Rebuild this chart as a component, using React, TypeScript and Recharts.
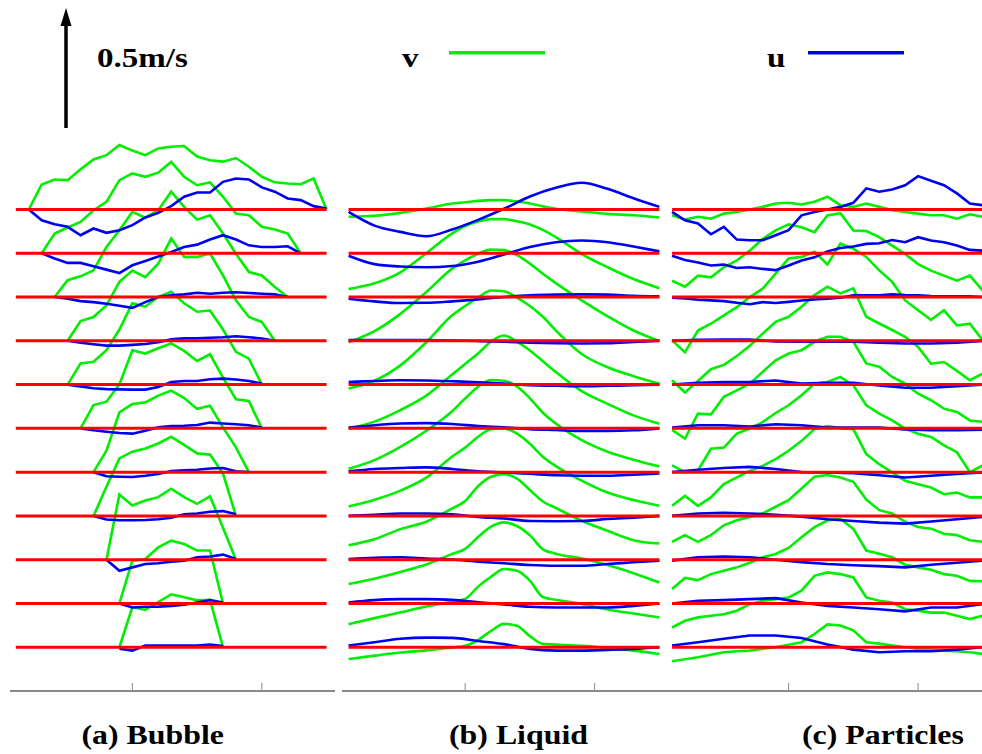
import { Line, LineChart, XAxis, YAxis } from 'recharts'

// vertical spacing between stacked profiles (m/s) and the y range of each panel
const GAP = 0.182
const YMAX = 2.37
const LEVELS = 11

const GREEN = '#00ee00'
const BLUE = '#0000f0'
const RED = '#ff0000'
const AXIS = '#8a8a8a'

// ---------- (a) Bubble: stations are integers, each profile starts at bubbleStart[level]
const bubbleStart = [2, 3, 4, 5, 5, 6, 7, 7, 8, 9, 9]

const bubbleV = [
  [0, 0.104, 0.125, 0.122, 0.167, 0.208, 0.226, 0.268, 0.245, 0.226, 0.254, 0.261, 0.264, 0.22, 0.205, 0.199, 0.214, 0.178, 0.136, 0.113, 0.108, 0.105, 0.129, 0],
  [0, 0.082, 0.107, 0.13, 0.179, 0.214, 0.304, 0.332, 0.318, 0.335, 0.38, 0.318, 0.283, 0.295, 0.235, 0.165, 0.158, 0.11, 0.099, 0.082, 0],
  [0, 0.07, 0.086, 0.111, 0.208, 0.278, 0.354, 0.33, 0.361, 0.438, 0.375, 0.322, 0.34, 0.264, 0.18, 0.104, 0.09, 0.042, 0],
  [0, 0.082, 0.099, 0.147, 0.245, 0.292, 0.265, 0.321, 0.425, 0.349, 0.349, 0.363, 0.272, 0.168, 0.099, 0.078, 0],
  [0, 0.088, 0.095, 0.143, 0.229, 0.338, 0.324, 0.365, 0.386, 0.338, 0.303, 0.308, 0.229, 0.136, 0.108, 0],
  [0, 0.097, 0.111, 0.183, 0.325, 0.311, 0.333, 0.353, 0.322, 0.28, 0.308, 0.211, 0.121, 0.114, 0],
  [0, 0.089, 0.249, 0.283, 0.29, 0.318, 0.339, 0.308, 0.263, 0.276, 0.186, 0.103, 0],
  [0, 0.121, 0.239, 0.267, 0.28, 0.301, 0.329, 0.295, 0.26, 0.255, 0.176, 0],
  [0, 0.271, 0.225, 0.246, 0.26, 0.295, 0.26, 0.232, 0.263, 0.133, 0],
  [0, 0.178, 0.185, 0.233, 0.261, 0.247, 0.22, 0.22, 0],
  [0, 0.167, 0.155, 0.188, 0.22, 0.208, 0.195, 0.197, 0],
]

const bubbleU = [
  [0, -0.045, -0.061, -0.072, -0.107, -0.079, -0.097, -0.086, -0.065, -0.033, -0.014, 0.014, 0.053, 0.071, 0.071, 0.115, 0.129, 0.125, 0.092, 0.074, 0.046, 0.039, 0.014, 0.004],
  [0, -0.022, -0.04, -0.04, -0.054, -0.068, -0.082, -0.05, -0.032, -0.013, 0.005, 0.026, 0.036, 0.057, 0.075, 0.057, 0.033, 0.026, 0.026, 0.029, 0],
  [0, -0.007, -0.017, -0.021, -0.028, -0.036, -0.045, -0.021, 0, 0.007, 0.011, 0.018, 0.014, 0.018, 0.02, 0.017, 0.014, 0.011, 0],
  [0, -0.008, -0.014, -0.02, -0.02, -0.017, -0.013, -0.006, 0.006, 0.01, 0.011, 0.013, 0.015, 0.019, 0.015, 0.01, 0],
  [0, -0.008, -0.015, -0.019, -0.02, -0.021, -0.021, -0.01, 0.011, 0.015, 0.015, 0.022, 0.025, 0.021, 0.015, 0.004],
  [0, -0.008, -0.014, -0.019, -0.022, -0.01, 0.005, 0.01, 0.011, 0.014, 0.024, 0.02, 0.017, 0.013, 0.003],
  [0, -0.017, -0.019, -0.02, -0.015, -0.008, 0.005, 0.008, 0.01, 0.015, 0.017, 0.004, 0],
  [0, -0.015, -0.018, -0.018, -0.017, -0.014, -0.008, 0.007, 0.01, 0.017, 0.02, 0.007],
  [0, -0.046, -0.032, -0.018, -0.015, -0.008, -0.004, 0.01, 0.013, 0.021, 0.003],
  [0, -0.017, -0.014, -0.013, -0.01, -0.005, 0.004, 0.014, 0.004],
  [-0.006, -0.014, 0.007, 0.007, 0.007, 0.007, 0.007, 0.011, 0.005],
]

// ---------- (b) Liquid
const liquidXV = [1, 3, 5, 7, 9, 10, 11, 12, 13, 14, 15, 16, 17, 19, 21, 23, 25]
const liquidXU = [1, 3, 5, 7, 9, 11, 13, 15, 17, 19, 21, 23, 25]

const liquidV = [
  [-0.03, -0.026, -0.014, 0.004, 0.025, 0.03, 0.036, 0.039, 0.039, 0.033, 0.025, 0.013, 0.003, -0.008, -0.018, -0.024, -0.033],
  [-0.149, -0.125, -0.079, 0, 0.083, 0.113, 0.132, 0.142, 0.142, 0.133, 0.12, 0.097, 0.067, -0.003, -0.058, -0.107, -0.145],
  [-0.188, -0.142, -0.07, 0.021, 0.118, 0.153, 0.18, 0.197, 0.195, 0.174, 0.139, 0.097, 0.058, -0.014, -0.08, -0.139, -0.183],
  [-0.198, -0.166, -0.102, -0.006, 0.106, 0.145, 0.18, 0.209, 0.206, 0.18, 0.145, 0.1, 0.043, -0.055, -0.11, -0.147, -0.178],
  [-0.183, -0.154, -0.106, -0.046, 0.042, 0.086, 0.129, 0.179, 0.204, 0.179, 0.142, 0.097, 0.052, -0.027, -0.08, -0.128, -0.163],
  [-0.168, -0.132, -0.077, -0.01, 0.071, 0.124, 0.173, 0.201, 0.198, 0.174, 0.125, 0.065, 0.02, -0.049, -0.097, -0.13, -0.158],
  [-0.143, -0.115, -0.077, -0.023, 0.065, 0.102, 0.147, 0.178, 0.182, 0.16, 0.118, 0.064, 0.025, -0.035, -0.085, -0.116, -0.14],
  [-0.122, -0.097, -0.055, -0.024, 0.031, 0.062, 0.124, 0.163, 0.173, 0.155, 0.108, 0.06, 0.033, -0.02, -0.062, -0.101, -0.115],
  [-0.101, -0.079, -0.051, -0.02, 0.024, 0.045, 0.094, 0.137, 0.155, 0.14, 0.101, 0.043, 0.025, 0.005, -0.022, -0.056, -0.095],
  [-0.086, -0.061, -0.037, -0.013, 0.008, 0.019, 0.07, 0.111, 0.143, 0.136, 0.095, 0.027, 0.015, -0.002, -0.025, -0.042, -0.058],
  [-0.049, -0.035, -0.022, -0.013, -0.001, 0.006, 0.03, 0.068, 0.097, 0.089, 0.046, 0.014, 0.011, 0.006, -0.003, -0.014, -0.028],
]

const liquidU = [
  [-0.01, -0.067, -0.093, -0.111, -0.083, -0.043, 0.003, 0.054, 0.09, 0.111, 0.086, 0.047, 0.011],
  [-0.01, -0.045, -0.055, -0.058, -0.053, -0.035, -0.005, 0.026, 0.046, 0.053, 0.046, 0.028, 0.008],
  [-0.007, -0.018, -0.025, -0.024, -0.018, -0.01, 0, 0.007, 0.01, 0.011, 0.01, 0.005, 0.003],
  [0.003, 0.003, 0.003, 0.003, 0.001, -0.001, -0.004, -0.008, -0.01, -0.011, -0.01, -0.005, 0],
  [0.011, 0.015, 0.018, 0.017, 0.014, 0.01, 0.004, -0.003, -0.005, -0.007, -0.005, -0.003, 0],
  [0.003, 0.013, 0.02, 0.022, 0.018, 0.01, 0.004, -0.003, -0.007, -0.011, -0.011, -0.008, 0],
  [0.003, 0.013, 0.017, 0.02, 0.013, 0.004, -0.001, -0.007, -0.013, -0.015, -0.015, -0.011, -0.005],
  [0, 0.005, 0.01, 0.01, 0.007, -0.004, -0.011, -0.021, -0.022, -0.021, -0.013, -0.007, 0],
  [0.003, 0.008, 0.01, 0.005, 0.001, -0.008, -0.015, -0.022, -0.025, -0.025, -0.018, -0.011, -0.004],
  [0.004, 0.014, 0.018, 0.018, 0.015, 0.005, -0.004, -0.014, -0.017, -0.017, -0.017, -0.01, 0],
  [0.007, 0.021, 0.035, 0.04, 0.039, 0.026, 0.013, -0.007, -0.014, -0.014, -0.011, -0.007, 0],
]

// ---------- (c) Particles
const particleX = [1, 2, 3, 4, 5, 6, 7, 8, 9, 10, 11, 12, 13, 14, 15, 16, 17, 18, 19, 20, 21, 22, 23, 24, 25]
const particleXOdd = [1, 3, 5, 7, 9, 11, 13, 15, 17, 19, 21, 23, 25]

const particleV = [
  [-0.024, -0.042, -0.03, -0.038, -0.017, -0.01, 0, 0.011, 0.025, 0.028, 0.021, 0.032, 0.053, 0.018, 0.011, 0.025, 0.011, -0.003, -0.01, -0.017, -0.024, -0.024, -0.038, -0.02, -0.03],
  [-0.114, -0.139, -0.093, -0.1, -0.058, -0.03, 0.011, 0.06, 0.095, 0.12, 0.108, 0.088, 0.157, 0.167, 0.095, 0.092, 0.067, 0.032, -0.003, -0.045, -0.072, -0.093, -0.114, -0.093, -0.155],
  [-0.18, -0.229, -0.139, -0.111, -0.076, -0.042, 0, 0.035, 0.097, 0.16, 0.167, 0.188, 0.136, 0.222, 0.201, 0.167, 0.111, 0.063, -0.014, -0.055, -0.095, -0.055, -0.118, -0.111, -0.18],
  [-0.164, -0.215, -0.167, -0.118, -0.1, -0.063, -0.021, 0.03, 0.079, 0.1, 0.142, 0.19, 0.225, 0.197, 0.218, 0.1, 0.072, 0.045, 0.017, -0.025, -0.095, -0.088, -0.125, -0.164, -0.136],
  [-0.188, -0.225, -0.121, -0.124, -0.051, -0.024, 0.004, 0.053, 0.101, 0.129, 0.143, 0.178, 0.199, 0.199, 0.178, 0.088, 0.074, 0.032, 0.004, -0.038, -0.065, -0.1, -0.114, -0.149, -0.155],
  [-0.154, -0.182, -0.175, -0.085, -0.08, -0.022, -0.001, 0.026, 0.064, 0.096, 0.138, 0.186, 0.193, 0.214, 0.179, 0.096, 0.061, 0.033, -0.001, -0.022, -0.036, -0.071, -0.099, -0.182, -0.154],
  [-0.14, -0.099, -0.14, -0.105, -0.05, -0.022, 0.005, 0.026, 0.054, 0.089, 0.13, 0.179, 0.192, 0.183, 0.179, 0.075, 0.033, -0.001, -0.036, -0.05, -0.064, -0.092, -0.085, -0.105, -0.105],
  [-0.108, -0.08, -0.108, -0.08, -0.039, -0.018, -0.004, 0.01, 0.038, 0.065, 0.114, 0.163, 0.17, 0.16, 0.142, 0.068, 0.024, 0.01, -0.025, -0.046, -0.053, -0.074, -0.08, -0.101, -0.108],
  [-0.122, -0.076, -0.085, -0.06, -0.046, -0.032, -0.013, 0.01, 0.024, 0.049, 0.093, 0.135, 0.163, 0.17, 0.128, 0.038, 0.025, 0.01, -0.021, -0.032, -0.042, -0.06, -0.067, -0.088, -0.09],
  [-0.1, -0.072, -0.058, -0.051, -0.045, -0.03, -0.003, 0.011, 0.018, 0.025, 0.053, 0.115, 0.129, 0.122, 0.108, 0.025, 0.011, 0.004, -0.024, -0.03, -0.038, -0.038, -0.051, -0.065, -0.051],
  [-0.058, -0.05, -0.042, -0.031, -0.021, -0.017, -0.014, -0.006, 0, 0.01, 0.021, 0.055, 0.095, 0.09, 0.07, 0.021, 0.015, 0.007, 0, -0.007, -0.01, -0.014, -0.017, -0.021, -0.028],
]

const particleU = [
  [-0.01, -0.045, -0.058, -0.103, -0.072, -0.125, -0.128, -0.128, -0.107, -0.086, -0.024, -0.01, 0, 0.011, 0.028, 0.088, 0.074, 0.083, 0.101, 0.139, 0.12, 0.101, 0.067, 0.025, 0.018],
  [-0.01, -0.028, -0.038, -0.051, -0.047, -0.061, -0.058, -0.065, -0.07, -0.051, -0.03, -0.017, 0.008, 0.022, 0.028, 0.039, 0.042, 0.055, 0.046, 0.067, 0.053, 0.046, 0.032, 0.014, 0.011],
  [-0.003, -0.006, -0.011, -0.014, -0.017, -0.024, -0.03, -0.021, -0.025, -0.02, -0.014, -0.01, -0.007, -0.003, 0.007, 0.007, 0.007, 0.011, 0.008, 0.007, 0.004, 0.003, 0.003, 0.003, 0],
  [0, 0.004, 0.005, 0.005, -0.003, -0.004, -0.004, -0.004, -0.008, -0.011, -0.011, -0.008, 0],
  [0, 0.007, 0.011, 0.011, 0.017, 0.004, 0.007, 0.007, -0.004, -0.013, -0.013, -0.007, 0],
  [0.003, 0.013, 0.013, 0.008, 0.017, 0.013, 0.003, 0.003, 0.003, -0.005, -0.008, -0.008, -0.005],
  [0, 0.01, 0.017, 0.022, 0.013, 0, -0.001, -0.004, -0.013, -0.022, -0.015, -0.008, -0.001],
  [0, 0.01, 0.013, 0.01, 0.005, -0.003, -0.014, -0.021, -0.028, -0.032, -0.023, -0.014, -0.004],
  [-0.004, 0.01, 0.013, 0.01, 0, -0.01, -0.018, -0.023, -0.027, -0.032, -0.021, -0.013, -0.004],
  [0, 0.011, 0.014, 0.018, 0.022, 0.004, -0.01, -0.017, -0.024, -0.033, -0.017, -0.017, -0.003],
  [0.007, 0.021, 0.035, 0.049, 0.049, 0.038, 0.011, -0.01, -0.021, -0.017, -0.017, -0.01, 0],
]

const baselineX = [1, 25]
const axisTicks = [10, 20]

type Pt = { x: number; y: number }

const base = (level: number) => (LEVELS - level) * GAP
const toPoints = (xs: number[], vals: number[], level: number): Pt[] =>
  vals.map((v, j) => ({ x: xs[j], y: base(level) + v }))

const seq = (start: number, n: number) => Array.from({ length: n }, (_, j) => start + j)

// tick marks only, no labels
const NoLabel = () => <g />

type PanelProps = {
  left: number
  width: number
  domain: [number, number]
  v: Pt[][]
  u: Pt[][]
  curve: 'linear' | 'monotone'
}

const Panel = ({ left, width, domain, v, u, curve }: PanelProps) => (
  <div style={{ position: 'absolute', left, top: 121 }}>
    <LineChart width={width} height={575} margin={{ top: 0, right: 0, bottom: 5, left: 0 }}>
      <XAxis
        type="number"
        dataKey="x"
        domain={domain}
        ticks={axisTicks}
        allowDataOverflow
        mirror
        tick={NoLabel}
        tickSize={8}
        axisLine={{ stroke: AXIS, strokeWidth: 2 }}
        tickLine={{ stroke: AXIS, strokeWidth: 1 }}
      />
      <YAxis hide type="number" domain={[0, YMAX]} allowDataOverflow />
      {v.map((pts, i) => (
        <Line key={`v${i}`} data={pts} dataKey="y" type={curve} stroke={GREEN} strokeWidth={2.6}
          dot={false} activeDot={false} isAnimationActive={false} />
      ))}
      {u.map((pts, i) => (
        <Line key={`u${i}`} data={pts} dataKey="y" type={curve} stroke={BLUE} strokeWidth={2.6}
          dot={false} activeDot={false} isAnimationActive={false} />
      ))}
      {v.map((_, i) => (
        <Line key={`r${i}`} data={baselineX.map((x) => ({ x, y: base(i) }))} dataKey="y" stroke={RED}
          strokeWidth={3} dot={false} activeDot={false} isAnimationActive={false} />
      ))}
    </LineChart>
  </div>
)

const serif = "'Liberation Serif', 'Times New Roman', serif"

const Label = ({ x, y, size, text }: { x: number; y: number; size: number; text: string }) => (
  <text transform={`translate(${x},${y}) scale(1.18,1)`} fontFamily={serif} fontWeight="bold" fontSize={size} fill="#000">
    {text}
  </text>
)

export default function App() {
  const bubbleVPts = bubbleV.map((vals, i) => toPoints(seq(bubbleStart[i], vals.length), vals, i))
  const bubbleUPts = bubbleU.map((vals, i) => toPoints(seq(bubbleStart[i], vals.length), vals, i))
  const liquidVPts = liquidV.map((vals, i) => toPoints(liquidXV, vals, i))
  const liquidUPts = liquidU.map((vals, i) => toPoints(liquidXU, vals, i))
  const particleVPts = particleV.map((vals, i) => toPoints(particleX, vals, i))
  const particleUPts = particleU.map((vals, i) =>
    toPoints(vals.length === particleX.length ? particleX : particleXOdd, vals, i),
  )

  return (
    <div style={{ position: 'absolute', left: 0, top: 0, width: 982, height: 754, overflow: 'hidden', background: '#fff' }}>
      <Panel left={10} width={325} domain={[0.55, 25.65]} v={bubbleVPts} u={bubbleUPts} curve="linear" />
      <Panel left={341.7} width={321.3} domain={[0.49, 25.3]} v={liquidVPts} u={liquidUPts} curve="monotone" />
      <Panel left={663.3} width={326.7} domain={[0.3, 25.53]} v={particleVPts} u={particleUPts} curve="linear" />

      <svg width={982} height={754} style={{ position: 'absolute', left: 0, top: 0, pointerEvents: 'none' }}>
        <line x1={66} y1={128} x2={66} y2={22} stroke="#000" strokeWidth={3.5} />
        <polygon points="66,8 60.5,26 71.5,26" fill="#000" />
        <Label x={97} y={66.5} size={28} text="0.5m/s" />
        <Label x={402} y={66.5} size={28} text="v" />
        <line x1={449} y1={52.7} x2={545} y2={52.7} stroke={GREEN} strokeWidth={3.5} />
        <Label x={767} y={66.5} size={28} text="u" />
        <line x1={808} y1={52.7} x2={904} y2={52.7} stroke={BLUE} strokeWidth={3.5} />
        <Label x={81.5} y={744} size={27} text="(a) Bubble" />
        <Label x={449} y={744} size={27} text="(b) Liquid" />
        <Label x={802} y={744} size={27} text="(c) Particles" />
      </svg>
    </div>
  )
}
